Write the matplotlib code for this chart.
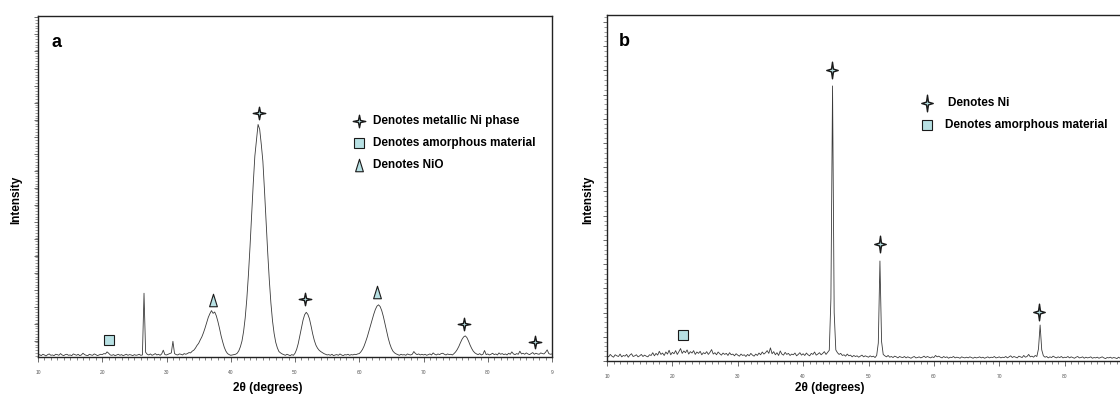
import numpy as np
import matplotlib
matplotlib.use("Agg")
import matplotlib.pyplot as plt
from matplotlib.path import Path
from matplotlib.ticker import MultipleLocator, FixedLocator

plt.rcParams['font.family'] = ['Liberation Sans', 'DejaVu Sans']
plt.rcParams['font.weight'] = 'bold'

# pas de balayage du diffractomètre (degrés 2theta)
two_theta = np.arange(10, 90.001, 0.25)

# (a) intensités lues, une ligne = 5 degrés
int_a = [
    0.9, 1.1, 0.8, 1.2, 1.0, 0.7, 1.1, 1.3, 0.9, 1.0, 0.8, 1.2, 1.1, 0.9, 1.4, 1.0, 0.8, 1.1, 1.2, 0.9,
    1.0, 0.8, 1.3, 1.1, 0.9, 1.2, 0.8, 1.0, 1.5, 1.1, 0.9, 0.8, 1.2, 1.0, 0.9, 1.3, 1.1, 0.8, 1.0, 1.2,
    1.1, 1.4, 1.3, 1.9, 1.5, 1.0, 0.9, 1.1, 0.8, 1.0, 1.2, 0.9, 1.1, 0.8, 1.0, 1.2, 0.9, 1.1, 1.0, 0.8,
    1.1, 0.9, 1.0, 1.2, 0.9, 1.0, 19.1, 1.8, 1.2, 1.0, 1.3, 0.9, 1.1, 1.4, 1.0, 1.2, 0.9, 1.3, 2.4, 1.1,
    1.0, 1.2, 1.4, 1.6, 5.0, 1.4, 1.1, 1.0, 1.3, 1.2, 1.0, 1.4, 1.2, 1.4, 1.7, 1.6, 2.1, 2.4, 3.0, 3.8,
    4.4, 5.4, 6.3, 7.5, 8.9, 10.5, 12.0, 13.1, 14.0, 13.2, 13.6, 12.5, 10.8, 8.8, 6.6, 4.8, 3.2, 2.1, 1.4, 1.1,
    0.9, 1.0, 1.1, 1.2, 1.5, 2.2, 3.4, 5.1, 7.9, 11.9, 17.4, 24.5, 32.8, 42.0, 51.2, 59.3, 63.8, 68.6, 67.2, 62.8,
    57.8, 49.3, 40.1, 31.1, 23.0, 16.2, 11.0, 7.3, 4.7, 3.1, 2.0, 1.6, 1.3, 1.1, 0.9, 1.2, 1.0, 0.8, 1.1, 0.9,
    1.5, 2.6, 4.3, 6.6, 9.0, 11.2, 12.8, 13.5, 12.9, 11.6, 9.5, 7.2, 5.3, 3.9, 3.0, 2.4, 2.0, 1.7, 1.4, 1.2,
    1.0, 1.1, 0.9, 1.2, 0.8, 1.0, 1.1, 0.9, 1.3, 1.0, 0.8, 1.1, 1.0, 1.2, 0.9, 1.1, 1.0, 1.2, 1.1, 1.3,
    1.4, 1.9, 2.6, 3.6, 4.9, 6.3, 7.9, 9.6, 11.3, 12.9, 14.3, 15.3, 15.7, 15.2, 14.0, 12.3, 10.2, 8.0, 6.0, 4.3,
    3.0, 2.1, 1.6, 1.3, 1.1, 0.9, 1.2, 1.0, 1.1, 0.9, 1.3, 1.1, 1.0, 1.2, 2.0, 1.4, 1.1, 1.3, 1.0, 1.2,
    1.0, 1.2, 0.9, 1.1, 1.3, 1.0, 1.6, 1.2, 1.0, 1.3, 1.1, 1.4, 1.5, 1.2, 1.0, 1.3, 1.1, 1.2, 1.0, 1.4,
    1.9, 2.6, 3.5, 4.6, 5.6, 6.3, 6.6, 6.1, 5.1, 3.9, 2.9, 2.1, 1.6, 1.3, 1.1, 1.4, 1.0, 1.2, 2.3, 1.1,
    1.3, 1.0, 1.2, 1.5, 1.1, 1.3, 1.0, 1.6, 1.2, 1.4, 1.1, 1.3, 1.0, 1.5, 1.2, 1.9, 1.3, 1.1, 1.4, 1.2,
    2.1, 1.3, 1.5, 1.2, 1.6, 1.3, 1.1, 1.4, 1.7, 1.2, 1.5, 1.3, 1.2, 1.6, 1.4, 1.3, 1.8, 2.5, 1.4, 1.2,
    1.3,
]

# (b) intensités lues, une ligne = 5 degrés
int_b = [
    1.6, 1.2, 1.9, 1.4, 1.1, 1.8, 1.5, 1.3, 2.0, 1.2, 1.6, 1.4, 1.9, 1.1, 1.7, 2.1, 1.3, 1.5, 1.8, 1.2,
    1.5, 1.9, 1.3, 1.7, 1.4, 1.2, 1.8, 1.6, 2.4, 1.5, 2.2, 1.7, 2.8, 1.9, 2.3, 1.6, 2.6, 2.0, 3.1, 1.8,
    2.5, 2.1, 3.0, 1.9, 2.7, 3.6, 2.2, 2.9, 2.4, 3.2, 2.0, 2.7, 2.3, 3.0, 1.9, 2.6, 2.2, 2.8, 1.8, 2.4,
    2.1, 2.7, 1.9, 2.5, 3.3, 2.0, 2.4, 1.8, 2.6, 2.1, 1.7, 2.3, 1.9, 2.2, 1.6, 2.4, 1.8, 2.0, 1.5, 2.1,
    1.7, 1.4, 2.0, 1.6, 1.8, 1.3, 1.9, 1.5, 2.2, 1.7, 1.4, 2.0, 1.6, 2.3, 1.8, 2.6, 2.0, 2.4, 3.0, 2.2,
    3.8, 2.1, 2.7, 1.8, 2.4, 1.6, 2.9, 2.0, 1.7, 2.5, 1.9, 2.2, 1.6, 2.0, 1.8, 2.3, 1.5, 1.9, 2.4, 1.7,
    2.1, 1.6, 2.3, 1.8, 1.5, 2.2, 1.9, 2.6, 1.7, 2.0, 2.4, 1.8, 2.2, 2.7, 1.9, 2.5, 3.1, 18.0, 79.5, 14.0,
    3.2, 2.4, 1.9, 2.2, 1.6, 1.8, 1.4, 2.0, 1.5, 1.7, 1.2, 1.6, 1.3, 1.5, 1.1, 1.4, 1.7, 1.2, 1.5, 1.3,
    1.1, 1.5, 1.2, 1.4, 1.0, 1.6, 5.2, 28.9, 5.6, 1.9, 1.5, 1.2, 1.6, 1.1, 1.3, 1.0, 1.4, 1.2, 0.9, 1.3,
    1.1, 1.0, 1.3, 0.9, 1.2, 1.0, 0.8, 1.1, 1.3, 0.9, 1.0, 1.2, 0.9, 1.1, 1.4, 1.0, 1.3, 1.1, 0.9, 1.2,
    1.0, 1.6, 1.2, 1.4, 1.1, 0.9, 1.3, 1.0, 1.2, 0.8, 1.1, 1.0, 1.3, 0.9, 1.1, 1.0, 0.8, 1.2, 1.0, 0.9,
    1.1, 0.9, 1.2, 1.0, 0.8, 1.1, 0.9, 1.0, 1.2, 0.9, 1.1, 0.8, 1.0, 1.2, 0.9, 1.1, 1.0, 1.3, 0.9, 1.0,
    1.2, 0.9, 1.1, 1.0, 1.3, 0.9, 1.2, 1.5, 1.0, 1.3, 1.1, 0.9, 1.4, 1.2, 1.0, 1.6, 1.1, 1.3, 1.9, 1.2,
    1.4, 1.1, 1.6, 1.3, 3.5, 10.4, 3.2, 1.5, 1.1, 1.3, 0.9, 1.2, 1.0, 1.4, 1.1, 0.9, 1.2, 1.0, 1.3, 0.9,
    1.1, 1.0, 1.3, 0.9, 1.2, 1.0, 0.8, 1.1, 1.3, 0.9, 1.0, 1.2, 0.8, 1.1, 0.9, 1.0, 1.2, 0.8, 1.0, 0.9,
    1.1, 0.8, 1.0, 1.2, 0.9, 0.7, 1.0, 0.9, 1.1, 0.8, 1.0, 0.9, 0.7, 1.1, 0.8, 1.0, 0.9, 1.2, 0.8, 1.0,
    0.9,
]

# indexation des pics
ni_a_x = [44.4, 51.5, 76.3, 87.4]
ni_a_y = [72.1, 17.4, 10.0, 4.8]
amorph_a_x = [21.0]
amorph_a_y = [5.3]
nio_a_x = [37.2, 62.7]
nio_a_y = [17.0, 19.6]

ni_b_x = [44.4, 51.7, 76.1]
ni_b_y = [84.1, 33.8, 14.3]
amorph_b_x = [21.7]
amorph_b_y = [7.5]

x_ticks_a = [10, 20, 30, 40, 50, 60, 70, 80, 90]
x_ticklabels_a = ['10', '20', '30', '40', '50', '60', '70', '80', '9']
x_ticks_b = [10, 20, 30, 40, 50, 60, 70, 80]
x_ticklabels_b = ['10', '20', '30', '40', '50', '60', '70', '80']

# symboles
star = Path.unit_regular_star(4, 0.24)
star_tall = Path(star.vertices * [1, 1.45], star.codes)
tri = Path([(0, 1), (-0.62, -1), (0.62, -1), (0, 1)],
           [Path.MOVETO, Path.LINETO, Path.LINETO, Path.CLOSEPOLY])
fill = '#b7e0e3'
edge = '#1a1a1a'

W, H = 1120, 396
fig = plt.figure(figsize=(W / 100, H / 100), dpi=100)
fig.patch.set_facecolor('white')

ax_a = fig.add_axes([38 / W, (H - 357) / H, 514 / W, 341 / H])
ax_b = fig.add_axes([607 / W, (H - 361) / H, 523 / W, 346 / H])


def mise_en_forme(ax, ticks, labels, ymaj, ymin):
    ax.set_xlim(10, 90)
    for s in ax.spines.values():
        s.set_linewidth(1.0)
        s.set_color('#222222')
    ax.xaxis.set_major_locator(FixedLocator(ticks))
    ax.xaxis.set_minor_locator(MultipleLocator(1))
    ax.set_xticklabels(labels)
    ax.yaxis.set_major_locator(MultipleLocator(ymaj))
    ax.yaxis.set_minor_locator(MultipleLocator(ymin))
    ax.tick_params(axis='x', which='major', length=3.5, width=0.6, color='#555555',
                   labelsize=3.5, pad=6, labelcolor='#555555')
    ax.tick_params(axis='x', which='minor', length=2, width=0.5, color='#555555')
    ax.tick_params(axis='y', which='major', length=3, width=0.6, color='#555555', labelleft=False)
    ax.tick_params(axis='y', which='minor', length=2, width=0.5, color='#777777')
    for lab in ax.get_xticklabels():
        lab.set_fontweight('normal')


# (a) catalyseur avec NiO
ax_a.plot(two_theta, int_a, color='#3a3a3a', lw=0.6)
ax_a.set_ylim(0.4, 100.4)
mise_en_forme(ax_a, x_ticks_a, x_ticklabels_a, 5, 0.8)
ax_a.plot(ni_a_x, ni_a_y, ls='none', marker=star, ms=9, mfc=fill, mec=edge, mew=1.0)
ax_a.plot(amorph_a_x, amorph_a_y, ls='none', marker='s', ms=6.5, mfc=fill, mec=edge, mew=0.8)
ax_a.plot(nio_a_x, nio_a_y, ls='none', marker=tri, ms=9, mfc=fill, mec=edge, mew=0.8)

ax_a.text(0.027, 0.921, 'a', transform=ax_a.transAxes, fontsize=13, va='center', ha='left')
leg_a = [(star, 9, 1.0, 'Denotes metallic Ni phase'),
         ('s', 6.5, 0.8, 'Denotes amorphous material'),
         (tri, 9, 0.8, 'Denotes NiO')]
for i, (m, ms, mew, txt) in enumerate(leg_a):
    y = 0.692 - i * 0.0645
    ax_a.plot([0.625], [y], transform=ax_a.transAxes, ls='none', marker=m, ms=ms,
              mfc=fill, mec=edge, mew=mew, clip_on=False)
    ax_a.text(0.652, y, txt, transform=ax_a.transAxes, fontsize=8.5, va='center', ha='left')

# (b) catalyseur réduit
ax_b.plot(two_theta, int_b, color='#3a3a3a', lw=0.6)
ax_b.set_ylim(0, 100)
mise_en_forme(ax_b, x_ticks_b, x_ticklabels_b, 7, 1.4)
ax_b.plot(ni_b_x, ni_b_y, ls='none', marker=star_tall, ms=12, mfc=fill, mec=edge, mew=1.0)
ax_b.plot(amorph_b_x, amorph_b_y, ls='none', marker='s', ms=6.5, mfc=fill, mec=edge, mew=0.8)

ax_b.text(0.023, 0.922, 'b', transform=ax_b.transAxes, fontsize=13, va='center', ha='left')
ax_b.plot([0.612], [0.746], transform=ax_b.transAxes, ls='none', marker=star_tall, ms=12,
          mfc=fill, mec=edge, mew=1.0, clip_on=False)
ax_b.text(0.652, 0.746, 'Denotes Ni', transform=ax_b.transAxes, fontsize=8.5, va='center', ha='left')
ax_b.plot([0.612], [0.682], transform=ax_b.transAxes, ls='none', marker='s', ms=6.5,
          mfc=fill, mec=edge, mew=0.8, clip_on=False)
ax_b.text(0.646, 0.682, 'Denotes amorphous material', transform=ax_b.transAxes, fontsize=8.5,
          va='center', ha='left')

# titres des axes
fig.text(268 / W, 1 - 388 / H, '2θ (degrees)', fontsize=8.5, ha='center', va='center')
fig.text(830 / W, 1 - 388 / H, '2θ (degrees)', fontsize=8.5, ha='center', va='center')
fig.text(16 / W, 1 - 200 / H, 'Intensity', fontsize=8.5, rotation=90, ha='center', va='center')
fig.text(588 / W, 1 - 200 / H, 'Intensity', fontsize=8.5, rotation=90, ha='center', va='center')

fig.savefig('out.png', dpi=100)
